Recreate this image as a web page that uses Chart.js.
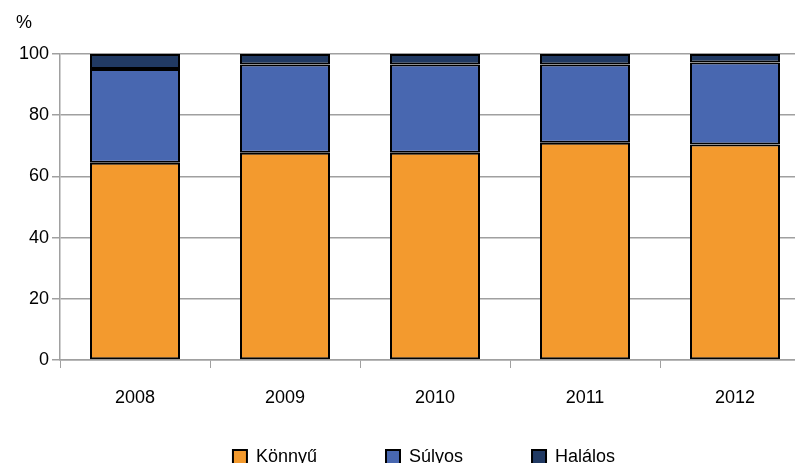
<!DOCTYPE html>
<html>
<head>
<meta charset="UTF-8">
<title>Sérültek megoszlása</title>
<script src="https://cdn.jsdelivr.net/npm/chart.js"></script>
<style>
    body { margin: 0; overflow: hidden; background: #fff; }
</style>
</head>
<body>
<canvas id="chart" width="836" height="463"></canvas>
<script>
    // évek és a sérülés súlyossága szerinti megoszlás (%)
    var years = ['2008', '2009', '2010', '2011', '2012'];
    var konnyu = [64.5, 67.7, 67.7, 71.0, 70.4];
    var sulyos = [30.6, 28.9, 28.9, 25.6, 26.8];
    var halalos = [4.9, 3.4, 3.4, 3.4, 2.8];
    var yTicks = [0, 20, 40, 60, 80, 100];

    var font = 'Liberation Sans, Arial, sans-serif';

    // a "%" felirat a tengely felett
    var unitLabel = {
        id: 'unitLabel',
        afterDraw: function (chart) {
            var ctx = chart.ctx;
            ctx.save();
            ctx.font = '18px ' + font;
            ctx.fillStyle = '#000';
            ctx.textBaseline = 'middle';
            ctx.fillText('%', 16, 23);
            ctx.restore();
        }
    };

    // a jelmagyarázat feljebb tolása (nagy vízszintes köz miatt),
    // az alja marad, hogy a vágás ne takarja el
    var legendShift = {
        id: 'legendShift',
        afterLayout: function (chart) {
            chart.legend.top -= 60;
            chart.legend.left += 19;
            chart.legend.right += 19;
        }
    };

    function ds(label, data, color) {
        return {
            label: label,
            data: data,
            backgroundColor: color,
            borderColor: '#000',
            borderWidth: 2,
            borderSkipped: false,
            categoryPercentage: 1.0,
            barPercentage: 0.6
        };
    }

    new Chart(document.getElementById('chart'), {
        type: 'bar',
        data: {
            labels: years,
            datasets: [
                ds('Könnyű', konnyu, '#f39a2e'),
                ds('Súlyos', sulyos, '#4867b0'),
                ds('Halálos', halalos, '#213a63')
            ]
        },
        options: {
            responsive: false,
            animation: false,
            layout: { padding: { top: 54, right: 26, left: 0, bottom: 0 } },
            plugins: {
                tooltip: { enabled: false },
                legend: {
                    position: 'bottom',
                    maxHeight: 24,
                    labels: {
                        boxWidth: 14,
                        boxHeight: 14,
                        padding: 69,
                        color: '#000',
                        font: { family: font, size: 18 }
                    }
                }
            },
            scales: {
                x: {
                    stacked: true,
                    afterFit: function (s) { s.height = 79; },
                    grid: {
                        drawOnChartArea: false,
                        tickLength: 8,
                        color: '#a0a0a0'
                    },
                    border: { color: '#a0a0a0', width: 1.5 },
                    ticks: {
                        color: '#000',
                        padding: 19,
                        font: { family: font, size: 18 }
                    }
                },
                y: {
                    stacked: true,
                    min: 0,
                    max: 100,
                    afterFit: function (s) { s.width = 60; },
                    afterBuildTicks: function (s) {
                        s.ticks = yTicks.map(function (v) { return { value: v }; });
                    },
                    grid: {
                        tickLength: 8,
                        color: '#a0a0a0',
                        lineWidth: 1.5
                    },
                    border: { color: '#a0a0a0', width: 1.5 },
                    ticks: {
                        color: '#000',
                        padding: 3,
                        font: { family: font, size: 18 }
                    }
                }
            }
        },
        plugins: [unitLabel, legendShift]
    });
</script>
</body>
</html>
